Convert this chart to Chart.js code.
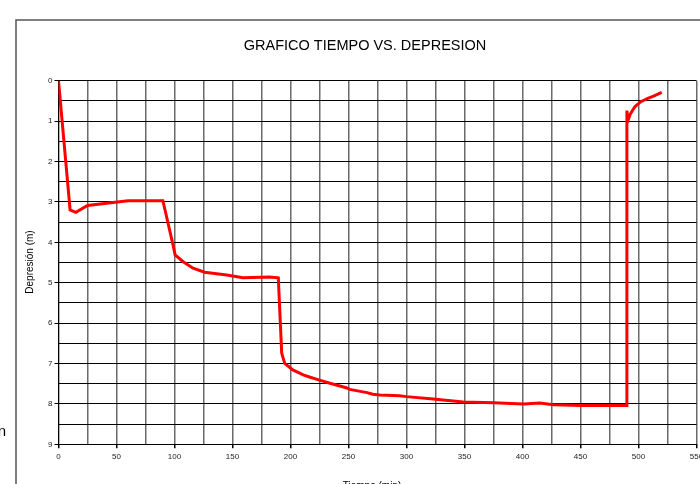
<!DOCTYPE html>
<html>
<head>
<meta charset="utf-8">
<script src="https://cdn.jsdelivr.net/npm/chart.js@4/dist/chart.umd.min.js"></script>
<style>
  html, body { margin: 0; padding: 0; background: #fff; }
  #wrap { width: 700px; height: 484px; overflow: hidden; }
</style>
</head>
<body>
<div id="wrap"><canvas id="c" width="700" height="484"></canvas></div>
<script>
// Pumping test record: elapsed time (min) vs. drawdown (m)
const tiempo = [0, 10, 15, 25, 60, 90, 99, 100.5, 107.5, 116, 126, 145, 159, 182, 189.5, 192.4, 195, 202, 211, 217, 225, 234, 248, 251, 266, 271, 277, 294, 300, 323, 349, 375, 401, 415, 426.5, 452, 490, 490, 491, 493, 497, 502, 508, 513, 520];
const depresion = [0, 3.2, 3.26, 3.09, 2.97, 2.97, 4.1, 4.31, 4.48, 4.64, 4.74, 4.81, 4.88, 4.86, 4.88, 6.74, 7.0, 7.16, 7.28, 7.34, 7.41, 7.49, 7.6, 7.64, 7.72, 7.76, 7.78, 7.8, 7.82, 7.88, 7.95, 7.97, 8.0, 7.98, 8.02, 8.04, 8.04, 0.74, 0.98, 0.82, 0.64, 0.52, 0.44, 0.38, 0.29];

const FONT = '"Liberation Sans", Arial, sans-serif';

const puntos = tiempo.map((t, i) => ({ x: t, y: depresion[i] }));

// Frame, title and axis captions drawn around the plot
const decor = {
  id: 'decor',
  beforeDraw(chart) {
    const ctx = chart.ctx;
    ctx.save();
    ctx.fillStyle = '#fff';
    ctx.fillRect(0, 0, chart.width, chart.height);
    ctx.strokeStyle = '#555';
    ctx.lineWidth = 1.5;
    ctx.beginPath();
    ctx.moveTo(16, 490);
    ctx.lineTo(16, 20);
    ctx.lineTo(710, 20);
    ctx.stroke();
    ctx.restore();
  },
  afterDraw(chart) {
    const ctx = chart.ctx;
    ctx.save();
    ctx.fillStyle = '#000';
    ctx.textAlign = 'center';
    ctx.textBaseline = 'middle';
    ctx.font = '14.5px ' + FONT;
    ctx.fillText('GRAFICO TIEMPO VS. DEPRESION', 365, 46);

    ctx.font = '10px ' + FONT;
    ctx.save();
    ctx.translate(30, 262);
    ctx.rotate(-Math.PI / 2);
    ctx.fillText('Depresión (m)', 0, 0);
    ctx.restore();

    ctx.textBaseline = 'top';
    ctx.fillText('Tiempo (min)', 372, 481.5);

    ctx.font = '15px ' + FONT;
    ctx.textAlign = 'right';
    ctx.textBaseline = 'middle';
    ctx.fillText('n', 6, 432);
    ctx.restore();
  }
};

new Chart(document.getElementById('c'), {
  type: 'line',
  data: {
    datasets: [{
      data: puntos,
      borderColor: '#ff0000',
      borderWidth: 3,
      pointRadius: 0,
      tension: 0,
      fill: false
    }]
  },
  options: {
    responsive: false,
    animation: false,
    devicePixelRatio: 1,
    layout: { padding: { left: 0, top: 80.7, right: 3.5, bottom: 0 } },
    plugins: { legend: { display: false }, tooltip: { enabled: false }, title: { display: false } },
    scales: {
      x: {
        type: 'linear',
        min: 0,
        max: 550,
        ticks: {
          stepSize: 25,
          autoSkip: false,
          maxRotation: 0,
          padding: 4,
          color: '#222',
          font: { family: FONT, size: 8 },
          callback: v => (v % 50 === 0 ? String(v) : '')
        },
        grid: {
          color: '#6a6a6a',
          lineWidth: 1.5,
          tickLength: 4,
          tickColor: c => (c.tick && c.tick.value % 50 === 0 ? '#000' : 'rgba(0,0,0,0)')
        },
        border: { color: '#000', width: 1 },
        afterFit(scale) {
          scale.height = 484 - 444.3;
          scale.paddingLeft = 0;
          scale.paddingRight = 0;
        }
      },
      y: {
        type: 'linear',
        reverse: true,
        min: 0,
        max: 9,
        ticks: {
          stepSize: 0.5,
          autoSkip: false,
          padding: 2,
          color: '#222',
          font: { family: FONT, size: 8 },
          callback: v => (v % 1 === 0 ? String(v) : '')
        },
        grid: {
          color: '#000',
          lineWidth: 1,
          tickLength: 4,
          tickColor: c => (c.tick && c.tick.value % 1 === 0 ? '#000' : 'rgba(0,0,0,0)')
        },
        border: { color: '#000', width: 1 },
        afterFit(scale) {
          scale.width = 58.5;
          scale.paddingTop = 0;
          scale.paddingBottom = 0;
        }
      }
    }
  },
  plugins: [decor]
});
</script>
</body>
</html>
